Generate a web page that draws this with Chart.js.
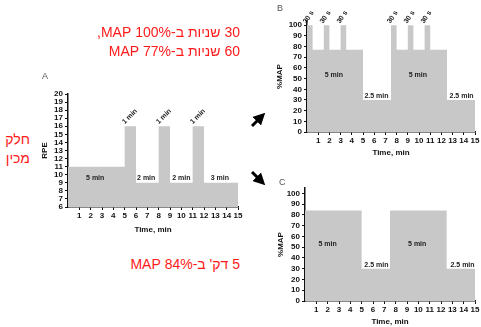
<!DOCTYPE html>
<html>
<head>
<meta charset="utf-8">
<script src="https://cdn.jsdelivr.net/npm/chart.js@4.4.1/dist/chart.umd.min.js"></script>
<style>
  html, body { margin: 0; padding: 0; background: #fff; }
  body { width: 481px; height: 327px; position: relative; overflow: hidden; font-family: "Liberation Sans", Arial, sans-serif; }
  .box { position: absolute; }
  .he { position: absolute; color: #ff1a1a; font-size: 14px; line-height: 19px; direction: rtl; text-align: right; white-space: nowrap; }
  .letter { position: absolute; color: #555; font-size: 9px; }
</style>
</head>
<body>
<div class="box" style="left:30px;top:70px;width:215px;height:170px"><canvas id="chartA"></canvas></div>
<div class="box" style="left:255px;top:0px;width:226px;height:165px"><canvas id="chartB"></canvas></div>
<div class="box" style="left:255px;top:165px;width:226px;height:162px"><canvas id="chartC"></canvas></div>

<div class="letter" style="left:42px;top:71px">A</div>
<div class="letter" style="left:277px;top:3px">B</div>
<div class="letter" style="left:279px;top:177px">C</div>

<div class="he" style="right:241px;top:23px" dir="rtl">30 שניות ב-100% MAP,<br>60 שניות ב-77% MAP</div>
<div class="he" style="right:451px;top:130px" dir="rtl">חלק<br>מכין</div>
<div class="he" style="right:241px;top:255px" dir="rtl">5 דק' ב-84% MAP</div>

<svg width="481" height="327" style="position:absolute;left:0;top:0;pointer-events:none">
  <defs>
    <marker id="head" markerWidth="4" markerHeight="4" refX="2" refY="2" orient="auto" markerUnits="strokeWidth">
      <path d="M0,0 L4,2 L0,4 z" fill="#000"/>
    </marker>
  </defs>
  <line x1="252" y1="126" x2="261" y2="117" stroke="#000" stroke-width="3" marker-end="url(#head)"/>
  <line x1="252" y1="172" x2="261" y2="181" stroke="#000" stroke-width="3" marker-end="url(#head)"/>
</svg>

<script>
// panel A: RPE protocol
const aTimes = [0, 5, 6, 8, 9, 11, 12, 15];
const aRpe = [11, 16, 9, 16, 9, 16, 9, 9];
const aXTicks = [1, 2, 3, 4, 5, 6, 7, 8, 9, 10, 11, 12, 13, 14, 15];
const aYTicks = [6, 7, 8, 9, 10, 11, 12, 13, 14, 15, 16, 17, 18, 19, 20];
const aNotes = [
  { text: '5 min', x: 2.4, y: 9.6 },
  { text: '2 min', x: 6.9, y: 9.6 },
  { text: '2 min', x: 10, y: 9.6 },
  { text: '3 min', x: 13.4, y: 9.6 },
  { text: '1 min', x: 5.1, y: 16.1, rot: -45 },
  { text: '1 min', x: 8.1, y: 16.1, rot: -45 },
  { text: '1 min', x: 11.1, y: 16.1, rot: -45 },
];

// panel B: 30 s / 60 s intervals
const bTimes = [0, 0.5, 1.5, 2, 3, 3.5, 5, 7.5, 8, 9, 9.5, 10.5, 11, 12.5, 15];
const bMap = [100, 77, 100, 77, 100, 77, 30, 100, 77, 100, 77, 100, 77, 30, 30];
const bNotes = [
  { text: '5 min', x: 2.4, y: 53 },
  { text: '2.5 min', x: 6.2, y: 33.5 },
  { text: '5 min', x: 9.9, y: 53 },
  { text: '2.5 min', x: 13.8, y: 33.5 },
  { text: '30 s', x: 0.05, y: 100.5, rot: -55 },
  { text: '30 s', x: 1.55, y: 100.5, rot: -55 },
  { text: '30 s', x: 3.05, y: 100.5, rot: -55 },
  { text: '30 s', x: 7.55, y: 100.5, rot: -55 },
  { text: '30 s', x: 9.05, y: 100.5, rot: -55 },
  { text: '30 s', x: 10.55, y: 100.5, rot: -55 },
];

// panel C: 5 min at 84%
const cTimes = [0, 5, 7.5, 12.5, 15];
const cMap = [84, 30, 84, 30, 30];
const cNotes = [
  { text: '5 min', x: 2.0, y: 53 },
  { text: '2.5 min', x: 6.3, y: 33.5 },
  { text: '5 min', x: 9.9, y: 53 },
  { text: '2.5 min', x: 13.9, y: 33.5 },
];

const mapXTicks = [1, 2, 3, 4, 5, 6, 7, 8, 9, 10, 11, 12, 13, 14, 15];
const mapYTicks = [0, 10, 20, 30, 40, 50, 60, 70, 80, 90, 100];

Chart.defaults.font.family = '"Liberation Sans", Arial, sans-serif';
Chart.defaults.color = '#111';

const notesPlugin = {
  id: 'notes',
  afterDatasetsDraw(chart, args, opts) {
    const { ctx, scales } = chart;
    ctx.save();
    ctx.fillStyle = '#222';
    ctx.font = 'bold 7px "Liberation Sans", Arial, sans-serif';
    (opts.items || []).forEach(n => {
      const px = scales.x.getPixelForValue(n.x);
      const py = scales.y.getPixelForValue(n.y);
      ctx.save();
      ctx.translate(px, py);
      if (n.rot) {
        ctx.rotate(n.rot * Math.PI / 180);
        ctx.textAlign = 'left';
        ctx.textBaseline = 'bottom';
      } else {
        ctx.textAlign = 'center';
        ctx.textBaseline = 'middle';
      }
      ctx.fillText(n.text, 0, 0);
      ctx.restore();
    });
    ctx.restore();
  }
};

function makeChart(id, times, values, o) {
  const pts = times.map((t, i) => ({ x: t, y: values[i] }));
  return new Chart(document.getElementById(id), {
    type: 'line',
    data: {
      datasets: [{
        data: pts,
        stepped: 'before',
        fill: 'start',
        backgroundColor: '#c8c8c8',
        borderColor: 'transparent',
        borderWidth: 0,
        pointRadius: 0,
      }]
    },
    options: {
      responsive: true,
      maintainAspectRatio: false,
      animation: false,
      events: [],
      layout: { padding: o.pad },
      plugins: {
        legend: { display: false },
        tooltip: { enabled: false },
        notes: { items: o.notes }
      },
      scales: {
        x: {
          type: 'linear',
          min: 0,
          max: 15,
          afterBuildTicks: s => { s.ticks = o.xTicks.map(v => ({ value: v })); },
          afterFit: s => { s.height = o.xH; },
          ticks: { font: { size: 8, weight: 'bold' }, padding: 1, maxRotation: 0, autoSkip: false, color: '#111' },
          grid: { display: true, drawOnChartArea: false, tickLength: 3, color: '#111', lineWidth: 1 },
          border: { display: true, color: '#111', width: 1.5 },
          title: { display: true, text: 'Time, min', font: { size: 8, weight: 'bold' }, padding: 0, color: '#111' }
        },
        y: {
          min: o.yMin,
          max: o.yMax,
          afterBuildTicks: s => { s.ticks = o.yTicks.map(v => ({ value: v })); },
          afterFit: s => { s.width = o.yW; },
          ticks: { font: { size: 8, weight: 'bold' }, padding: 2, autoSkip: false, color: '#111' },
          grid: { display: true, drawOnChartArea: false, tickLength: 3, color: '#111', lineWidth: 1 },
          border: { display: true, color: '#111', width: 1.5 },
          title: { display: true, text: o.yTitle, font: { size: 8, weight: 'bold' }, padding: 0, color: '#111' }
        }
      }
    },
    plugins: [notesPlugin]
  });
}

makeChart('chartA', aTimes, aRpe, {
  pad: { left: 10, top: 24, right: 7, bottom: 5 },
  xH: 28, yW: 28, yMin: 6, yMax: 20,
  xTicks: aXTicks, yTicks: aYTicks, yTitle: 'RPE', notes: aNotes
});

makeChart('chartB', bTimes, bMap, {
  pad: { left: 20, top: 21, right: 6, bottom: 7 },
  xH: 26, yW: 32, yMin: 0, yMax: 104,
  xTicks: mapXTicks, yTicks: mapYTicks, yTitle: '%MAP', notes: bNotes
});

makeChart('chartC', cTimes, cMap, {
  pad: { left: 21, top: 23, right: 6, bottom: 0 },
  xH: 26, yW: 29, yMin: 0, yMax: 105,
  xTicks: mapXTicks, yTicks: mapYTicks, yTitle: '%MAP', notes: cNotes
});
</script>
</body>
</html>
